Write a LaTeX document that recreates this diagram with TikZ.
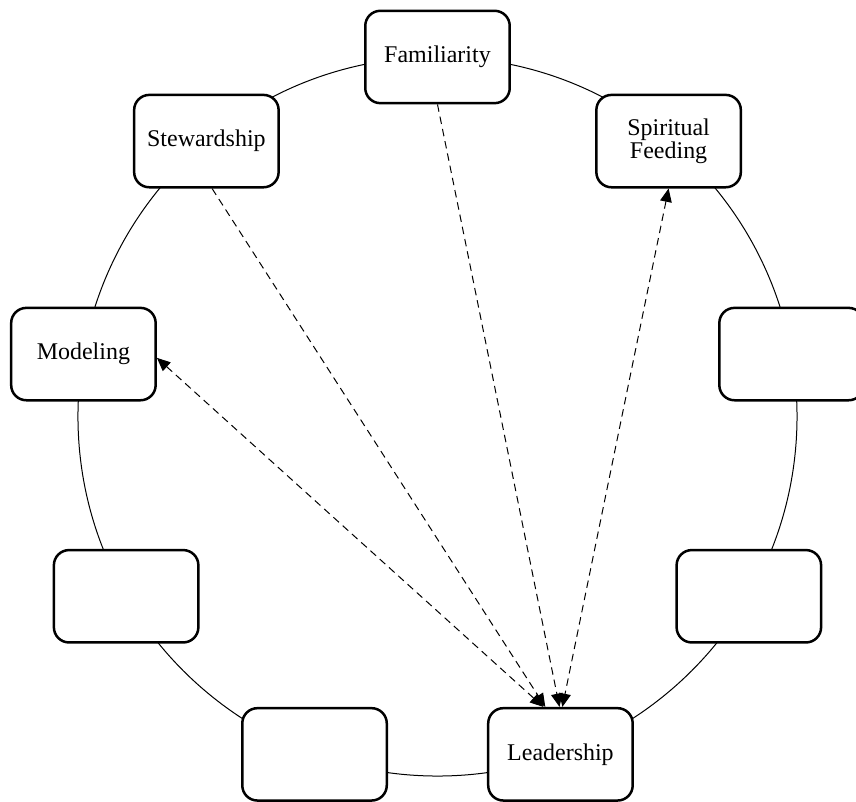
\documentclass[tikz,border=0pt]{standalone}
\usepackage{fontspec}
\setmainfont{Liberation Serif}
\usetikzlibrary{arrows.meta}

\begin{document}
\begin{tikzpicture}[>={Triangle[length=8pt,width=7pt]},
box/.style={draw, line width=1.5pt, rounded corners=.32cm, fill=white, minimum width=3.05cm, minimum height=1.95cm, align=center, inner sep=0, font=\fontsize{14.4}{13.8}\selectfont},
ring/.style={line width=.6pt},
link/.style={line width=.6pt, dash pattern=on 4.5pt off 3pt},
]
%%%%%%%%%%%% SIZE OF THE PICTURE
\useasboundingbox (-9.236,-8.138) rectangle (8.835,8.793);

%%%%%%%%%%%%%%%%%%%%%%%% RING %%%%%%%%%%%%%%%%%%%%%%%%%%%
\coordinate (C) at (0,0);
\draw[ring] (C) circle (7.59);

%%%%%%%%%%%%%%%%%%%%%%%% BOXES %%%%%%%%%%%%%%%%%%%%%%%%%%%
\node[box] (Familiarity) at (90:7.59) {Familiarity};
\node[box] (Feeding) at (50:7.59) {Spiritual\\Feeding};
\node[box] (EmptyA) at (10:7.59) {};
\node[box] (EmptyB) at (-30:7.59) {};
\node[box] (Leadership) at (-70:7.59) {Leadership};
\node[box] (EmptyC) at (-110:7.59) {};
\node[box] (EmptyD) at (-150:7.59) {};
\node[box] (Modeling) at (170:7.59) {Modeling};
\node[box] (Stewardship) at (130:7.59) {Stewardship};

%%%%%%%%%%%%%%%%%%%%%%%% LINKS %%%%%%%%%%%%%%%%%%%%%%%%%%%
\draw[link, ->] ([xshift=.12cm]Stewardship.south) -- ([xshift=-.32cm]Leadership.north);
\draw[link, ->] (Familiarity.south) -- ([xshift=-.02cm]Leadership.north);
\draw[link, <->] (Feeding.south) -- ([xshift=.04cm]Leadership.north);
\draw[link, <->] ([yshift=-.08cm]Modeling.east) -- ([xshift=-.36cm]Leadership.north);
\end{tikzpicture}
\end{document}
